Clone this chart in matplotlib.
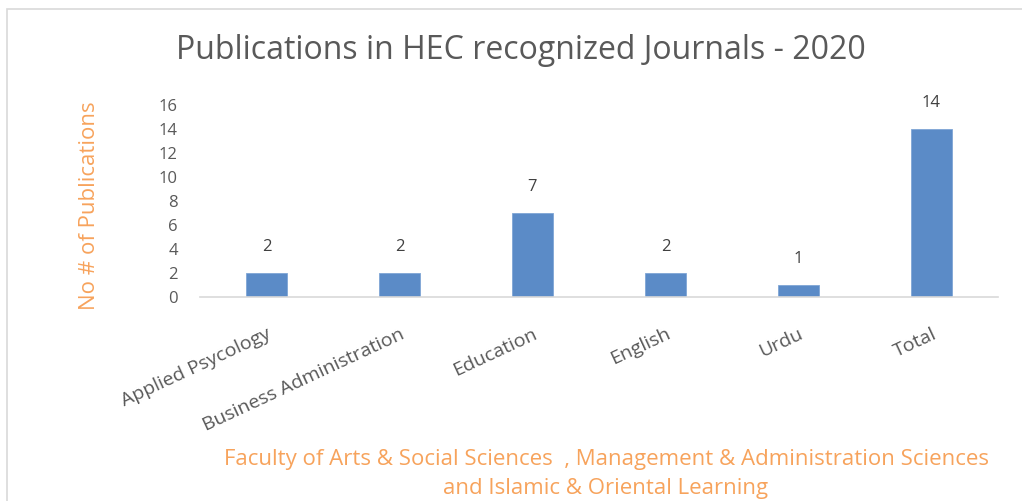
import matplotlib
matplotlib.use("Agg")
import matplotlib.pyplot as plt
from matplotlib.patches import Rectangle

categories = ["Applied Psycology", "Business Administration", "Education", "English", "Urdu", "Total"]
values = [2, 2, 7, 2, 1, 14]
yticks = [0, 2, 4, 6, 8, 10, 12, 14, 16]

plt.rcParams['font.family'] = ['Open Sans', 'DejaVu Sans']
fig = plt.figure(figsize=(10.22, 5.01), dpi=100)
ax = fig.add_axes([0.1957, 0.407, 0.7808, 0.383])

x = list(range(len(categories)))
bars = ax.bar(x, values, width=0.31, color='#5B8BC7', edgecolor='#7FA6D6', linewidth=0.6, zorder=2)
for xi, v in zip(x, values):
    ax.text(xi, v + 2.2, str(v), ha='center', va='center', fontsize=12, color='#404040')

ax.set_xlim(-0.5, len(categories) - 0.5)
ax.set_ylim(0, 16)
ax.set_yticks(yticks)
ax.set_yticklabels([str(t) for t in yticks], fontsize=12, color='#595959')
ax.set_xticks(x)
ax.set_xticklabels(categories, rotation=25, ha='right', rotation_mode='anchor', fontsize=14, color='#595959')
for s in ['top', 'right', 'left']:
    ax.spines[s].set_visible(False)
ax.spines['bottom'].set_color('#D9D9D9')
ax.spines['bottom'].set_linewidth(1.2)
ax.tick_params(axis='both', length=0)
ax.tick_params(axis='y', pad=16)
ax.tick_params(axis='x', pad=20)

fig.text(0.51, 0.9, "Publications in HEC recognized Journals - 2020", ha='center', va='center', fontsize=23, color='#595959')
fig.text(0.088, 0.59, "No # of Publications", rotation=90, ha='center', va='center', fontsize=16, color='#F7A35C')
fig.text(0.593, 0.003, "Faculty of Arts & Social Sciences  , Management & Administration Sciences\nand Islamic & Oriental Learning",
         ha='center', va='bottom', fontsize=16, color='#F7A35C', linespacing=1.55)

fig.patches.append(Rectangle((0.007, -0.1), 1.1, 1.082, transform=fig.transFigure, fill=False, edgecolor='#D9D9D9', linewidth=1.2))

fig.savefig("out.png", dpi=100)
